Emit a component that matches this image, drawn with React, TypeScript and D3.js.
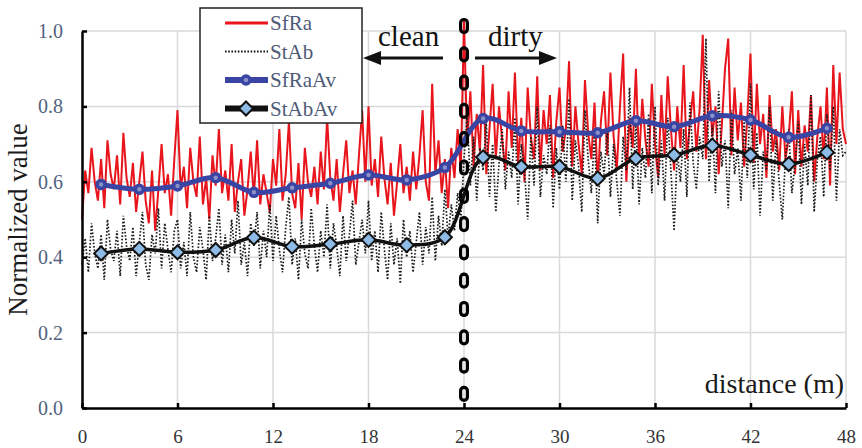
import React, { useEffect, useRef } from "react";
import * as d3 from "d3";

// raw samples, every 0.2 m from 0 to 48 m
const rawStep = 0.2;

const sfRa = [
  0.50, 0.63, 0.57, 0.69, 0.60, 0.55, 0.66, 0.53, 0.71, 0.62, 0.58, 0.67, 0.54, 0.73, 0.61,
  0.56, 0.65, 0.52, 0.60, 0.68, 0.55, 0.49, 0.63, 0.47, 0.58, 0.70, 0.57, 0.62, 0.51, 0.66,
  0.79, 0.58, 0.64, 0.53, 0.69, 0.60, 0.56, 0.72, 0.54, 0.61, 0.50, 0.67, 0.59, 0.74, 0.57,
  0.63, 0.55, 0.70, 0.52, 0.60, 0.66, 0.51, 0.58, 0.68, 0.56, 0.71, 0.54, 0.62, 0.57, 0.52,
  0.66, 0.59, 0.74, 0.55, 0.62, 0.76, 0.57, 0.53, 0.65, 0.50, 0.69, 0.60, 0.56, 0.64, 0.54,
  0.68, 0.58, 0.77, 0.61, 0.55, 0.66, 0.52, 0.62, 0.71, 0.57, 0.63, 0.54, 0.67, 0.79, 0.60,
  0.80, 0.59, 0.66, 0.56, 0.72, 0.61, 0.54, 0.65, 0.51, 0.60, 0.70, 0.57, 0.64, 0.55, 0.68,
  0.58, 0.67, 0.79, 0.60, 0.55, 0.86, 0.62, 0.71, 0.57, 0.66, 0.53, 0.69, 0.61, 0.74, 0.63,
  1.03, 0.70, 0.84, 0.64, 0.78, 0.68, 0.91, 0.62, 0.74, 0.86, 0.66, 0.80, 0.71, 0.63, 0.84,
  0.69, 0.89, 0.65, 0.77, 0.60, 0.85, 0.72, 0.66, 0.88, 0.63, 0.79, 0.70, 0.83, 0.61, 0.76,
  0.85, 0.68, 0.74, 0.92, 0.64, 0.80, 0.70, 0.62, 0.87, 0.73, 0.66, 0.81, 0.59, 0.76, 0.84,
  0.67, 0.89, 0.72, 0.63, 0.80, 0.94, 0.60, 0.77, 0.69, 0.90, 0.65, 0.82, 0.71, 0.64, 0.86,
  0.70, 0.61, 0.83, 0.67, 0.88, 0.74, 0.63, 0.80, 0.69, 0.91, 0.66, 0.76, 0.84, 0.68, 0.79,
  0.99, 0.66, 0.87, 0.72, 0.80, 0.62, 0.75, 0.90, 0.98, 0.67, 0.85, 0.71, 0.81, 0.64, 0.77,
  0.94, 0.65, 0.86, 0.70, 0.78, 0.61, 0.83, 0.68, 0.74, 0.63, 0.80, 0.66, 0.72, 0.84, 0.62,
  0.79, 0.64, 0.75, 0.68, 0.83, 0.60, 0.72, 0.80, 0.66, 0.85, 0.59, 0.91, 0.70, 0.89, 0.74,
  0.70,
];

const stAb = [
  0.38, 0.45, 0.36, 0.49, 0.41, 0.37, 0.46, 0.34, 0.50, 0.42, 0.39, 0.47, 0.35, 0.51, 0.43,
  0.39, 0.48, 0.35, 0.44, 0.52, 0.38, 0.34, 0.46, 0.41, 0.53, 0.37, 0.49, 0.42, 0.36, 0.47,
  0.50, 0.37, 0.44, 0.35, 0.52, 0.40, 0.36, 0.48, 0.42, 0.34, 0.51, 0.39, 0.45, 0.53, 0.38,
  0.46, 0.36, 0.50, 0.41, 0.55, 0.38, 0.44, 0.35, 0.49, 0.43, 0.52, 0.37, 0.47, 0.40, 0.54,
  0.39, 0.51, 0.42, 0.36, 0.48, 0.56, 0.38, 0.45, 0.34, 0.50, 0.41, 0.37, 0.53, 0.43, 0.36,
  0.47, 0.40, 0.54, 0.37, 0.49, 0.43, 0.35, 0.51, 0.39, 0.46, 0.55, 0.38, 0.44, 0.50, 0.41,
  0.55, 0.39, 0.47, 0.36, 0.52, 0.42, 0.34, 0.49, 0.38, 0.45, 0.33, 0.50, 0.40, 0.47, 0.36,
  0.44, 0.52, 0.38, 0.48, 0.41, 0.56, 0.39, 0.51, 0.43, 0.58, 0.45, 0.54, 0.47, 0.57, 0.50,
  0.66, 0.78, 0.59, 0.72, 0.55, 0.69, 0.63, 0.76, 0.56, 0.70, 0.52, 0.65, 0.74, 0.58, 0.68,
  0.61, 0.77, 0.54, 0.70, 0.63, 0.50, 0.72, 0.59, 0.80, 0.56, 0.67, 0.62, 0.75, 0.53, 0.69,
  0.58, 0.75, 0.60, 0.82, 0.55, 0.71, 0.64, 0.52, 0.79, 0.66, 0.57, 0.73, 0.49, 0.68, 0.62,
  0.74, 0.56, 0.70, 0.60, 0.51, 0.72, 0.63, 0.85, 0.58, 0.76, 0.54, 0.69, 0.61, 0.78, 0.57,
  0.80, 0.59, 0.71, 0.55, 0.77, 0.63, 0.47, 0.68, 0.60, 0.74, 0.56, 0.81, 0.65, 0.58, 0.72,
  0.66, 0.98, 0.60, 0.75, 0.57, 0.84, 0.64, 0.71, 0.53, 0.79, 0.62, 0.69, 0.55, 0.76, 0.61,
  0.86, 0.58, 0.73, 0.51, 0.68, 0.63, 0.80, 0.55, 0.71, 0.60, 0.50, 0.67, 0.74, 0.57, 0.65,
  0.76, 0.54, 0.70, 0.59, 0.83, 0.52, 0.66, 0.72, 0.56, 0.78, 0.63, 0.80, 0.55, 0.74, 0.67,
  0.68,
];

// averaged values
const avgDistance = [1.2, 3.6, 6.0, 8.4, 10.8, 13.2, 15.6, 18.0, 20.4, 22.8,
  25.2, 27.6, 30.0, 32.4, 34.8, 37.2, 39.6, 42.0, 44.4, 46.8];
const sfRaAv = [0.593, 0.580, 0.589, 0.611, 0.572, 0.584, 0.596, 0.618, 0.605, 0.638,
  0.768, 0.735, 0.733, 0.730, 0.762, 0.746, 0.775, 0.764, 0.718, 0.742];
const stAbAv = [0.410, 0.422, 0.413, 0.419, 0.452, 0.428, 0.435, 0.446, 0.432, 0.453,
  0.665, 0.640, 0.640, 0.609, 0.662, 0.671, 0.696, 0.671, 0.647, 0.678];

const xTicks = [0, 6, 12, 18, 24, 30, 36, 42, 48];
const yTicks = [0, 0.2, 0.4, 0.6, 0.8, 1.0];
const boundary = 24;
const legendNames = ["SfRa", "StAb", "SfRaAv", "StAbAv"];

const RED = "#e8151d";
const BLUE = "#3a45a3";
const DIAMOND = "#8dbbe6";
const FONT = "'Liberation Serif', 'Times New Roman', serif";

export default function App() {
  const ref = useRef<SVGSVGElement>(null);

  useEffect(() => {
    const svg = d3.select(ref.current);
    svg.selectAll("*").remove();

    const x = d3.scaleLinear().domain([0, 48]).range([82, 846]);
    const y = d3.scaleLinear().domain([0, 1]).range([408, 31]);

    // grid
    svg.append("g").selectAll("line").data(yTicks.slice(1)).join("line")
      .attr("x1", x(0)).attr("x2", x(48))
      .attr("y1", (d) => y(d)).attr("y2", (d) => y(d))
      .attr("stroke", "#d9d9d9").attr("stroke-width", 1.5);
    svg.append("g").selectAll("line").data(xTicks.slice(1)).join("line")
      .attr("x1", (d) => x(d)).attr("x2", (d) => x(d))
      .attr("y1", y(0)).attr("y2", y(1))
      .attr("stroke", "#d9d9d9").attr("stroke-width", 1.5);

    // raw series
    const rawLine = d3.line<number>()
      .x((d, i) => x(i * rawStep))
      .y((d) => y(d));
    svg.append("path").datum(sfRa)
      .attr("fill", "none").attr("stroke", RED).attr("stroke-width", 2)
      .attr("d", rawLine);
    svg.append("path").datum(stAb)
      .attr("fill", "none").attr("stroke", "#1a1a1a").attr("stroke-width", 1.7)
      .attr("stroke-dasharray", "1.6 1.8")
      .attr("d", rawLine);

    // averaged series
    const avgLine = d3.line<number>()
      .x((d, i) => x(avgDistance[i]))
      .y((d) => y(d))
      .curve(d3.curveCatmullRom.alpha(0.5));

    svg.append("path").datum(sfRaAv)
      .attr("fill", "none").attr("stroke", BLUE).attr("stroke-width", 5)
      .attr("d", avgLine);
    svg.append("g").selectAll("circle").data(sfRaAv).join("circle")
      .attr("cx", (d, i) => x(avgDistance[i])).attr("cy", (d) => y(d))
      .attr("r", 4).attr("fill", "#8a90c8")
      .attr("stroke", BLUE).attr("stroke-width", 3.5);

    svg.append("path").datum(stAbAv)
      .attr("fill", "none").attr("stroke", "#111").attr("stroke-width", 3.5)
      .attr("d", avgLine);
    const diamond = "M0,-7L7,0L0,7L-7,0Z";
    svg.append("g").selectAll("path").data(stAbAv).join("path")
      .attr("transform", (d, i) => `translate(${x(avgDistance[i])},${y(d)})`)
      .attr("d", diamond)
      .attr("fill", DIAMOND).attr("stroke", "#111").attr("stroke-width", 2);

    // axes
    const yAxis = svg.append("g")
      .attr("transform", `translate(${x(0)},0)`)
      .call(d3.axisLeft(y).tickValues(yTicks).tickSize(-5).tickSizeOuter(0)
        .tickPadding(19).tickFormat(d3.format(".1f")));
    yAxis.select(".domain").attr("stroke", "#000").attr("stroke-width", 2.5);
    yAxis.selectAll(".tick line").attr("stroke", "#000").attr("stroke-width", 2.5);
    yAxis.selectAll("text").attr("font-family", FONT).attr("font-size", 20)
      .attr("fill", "#52627e");

    const xAxis = svg.append("g")
      .attr("transform", `translate(0,${y(0)})`)
      .call(d3.axisBottom(x).tickValues(xTicks).tickSize(-5).tickSizeOuter(0)
        .tickPadding(22));
    xAxis.select(".domain").attr("stroke", "#000").attr("stroke-width", 2.5);
    xAxis.selectAll(".tick line").attr("stroke", "#000").attr("stroke-width", 2.5);
    xAxis.selectAll("text").attr("font-family", FONT).attr("font-size", 19)
      .attr("fill", "#333");

    // clean / dirty boundary
    svg.append("g").selectAll("rect").data(d3.range(14)).join("rect")
      .attr("x", x(boundary) - 3.4).attr("y", (d) => 19.5 + d * 28.3)
      .attr("width", 6.8).attr("height", 13).attr("rx", 3.4)
      .attr("fill", "none").attr("stroke", "#000").attr("stroke-width", 3.2);

    // titles
    svg.append("text")
      .attr("transform", `translate(27,${(y(0) + y(1)) / 2}) rotate(-90)`)
      .attr("text-anchor", "middle")
      .attr("font-family", FONT).attr("font-size", 27).attr("fill", "#1a1a1a")
      .text("Normalized value");
    svg.append("text")
      .attr("x", x(48) - 2).attr("y", 393).attr("text-anchor", "end")
      .attr("font-family", FONT).attr("font-size", 28).attr("fill", "#1a1a1a")
      .text("distance (m)");

    svg.append("text").attr("x", 378).attr("y", 46)
      .attr("font-family", FONT).attr("font-size", 29).attr("fill", "#111")
      .text("clean");
    svg.append("text").attr("x", 488).attr("y", 46)
      .attr("font-family", FONT).attr("font-size", 29).attr("fill", "#111")
      .text("dirty");
    svg.append("line").attr("x1", 443).attr("x2", 376).attr("y1", 58).attr("y2", 58)
      .attr("stroke", "#111").attr("stroke-width", 3);
    svg.append("path").attr("d", "M363,58L381,51L381,65Z").attr("fill", "#111");
    svg.append("line").attr("x1", 475).attr("x2", 544).attr("y1", 58).attr("y2", 58)
      .attr("stroke", "#111").attr("stroke-width", 3);
    svg.append("path").attr("d", "M557,58L539,51L539,65Z").attr("fill", "#111");

    // legend
    const lg = svg.append("g");
    lg.append("rect").attr("x", 200).attr("y", 8).attr("width", 162).attr("height", 115)
      .attr("fill", "#fff").attr("stroke", "#222").attr("stroke-width", 1.5);
    const rows = lg.selectAll("g").data(legendNames).join("g")
      .attr("transform", (d, i) => `translate(0,${23 + i * 28.5})`);
    rows.append("line").attr("x1", 225).attr("x2", 268)
      .attr("stroke", (d, i) => (i === 0 ? RED : i === 2 ? BLUE : "#111"))
      .attr("stroke-width", (d, i) => (i === 0 ? 3 : i === 1 ? 2 : 6))
      .attr("stroke-dasharray", (d, i) => (i === 1 ? "1.6 1.6" : null));
    rows.filter((d, i) => i === 2).append("circle")
      .attr("cx", 246).attr("r", 4).attr("fill", "#8a90c8")
      .attr("stroke", BLUE).attr("stroke-width", 3.5);
    rows.filter((d, i) => i === 3).append("path")
      .attr("transform", "translate(246,0)").attr("d", diamond)
      .attr("fill", DIAMOND).attr("stroke", "#111").attr("stroke-width", 2);
    rows.append("text").attr("x", 270).attr("dy", "0.35em")
      .attr("font-family", FONT).attr("font-size", 21).attr("fill", "#4e5a78")
      .text((d) => d);
  }, []);

  return (
    <svg ref={ref} width={862} height={448}
      style={{ position: "absolute", left: 0, top: 0, background: "#fff" }} />
  );
}
